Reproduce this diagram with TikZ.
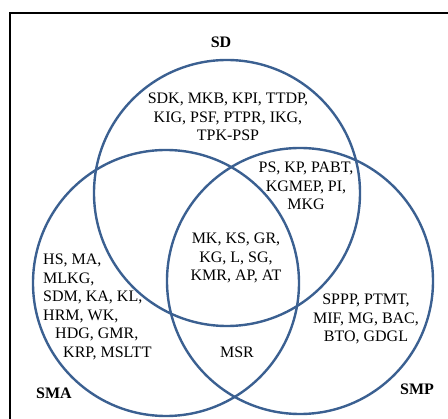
\documentclass[tikz,border=0pt]{standalone}
\usepackage{fontspec}
\setmainfont{Liberation Serif}
\definecolor{vennblue}{RGB}{59,96,145}

\begin{document}
\begin{tikzpicture}[x=1pt,y=-1pt,
                    set/.style={draw=vennblue,line width=2.4pt},
                    members/.style={align=center,inner sep=0pt,font=\fontsize{16}{18.5}\selectfont},
                    setname/.style={inner sep=0pt,font=\fontsize{16}{18.5}\selectfont\bfseries}]

  \useasboundingbox (0,0) rectangle (448,419);

  % frame, only left and top edges show
  \draw [line width=2.6pt] (10,419) -- (10,13) -- (448,13);

  % the three sets
  \draw [set] (227,193) circle (133);
  \draw [set] (166,283) circle (133);
  \draw [set] (300,281) circle (133);

  \node [setname] (sd) at (221,42) {SD};
  \node [setname] (sma) at (54,393) {SMA};
  \node [setname] (smp) at (417,389) {SMP};

  \node [members] (sdonly) at (228,117) {SDK, MKB, KPI, TTDP,\\ KIG, PSF, PTPR, IKG,\\ TPK-PSP};
  \node [members] (sdsmp) at (306,186) {PS, KP, PABT,\\ KGMEP, PI,\\ MKG};
  \node [members] (all) at (236,258) {MK, KS, GR,\\ KG, L, SG,\\ KMR, AP, AT};
  \node [members,align=left,anchor=north west] (smaonly) at (43,254)
        {HS, MA,\\ MLKG,\\ SDM, KA, KL,\\ HRM, WK,\\ \hspace*{12pt}HDG, GMR,\\ \hspace*{20pt}KRP, MSLTT};
  \node [members] (smasmp) at (237,352) {MSR};
  \node [members] (smponly) at (366,319) {SPPP, PTMT,\\ MIF, MG, BAC,\\ BTO, GDGL};

\end{tikzpicture}
\end{document}
